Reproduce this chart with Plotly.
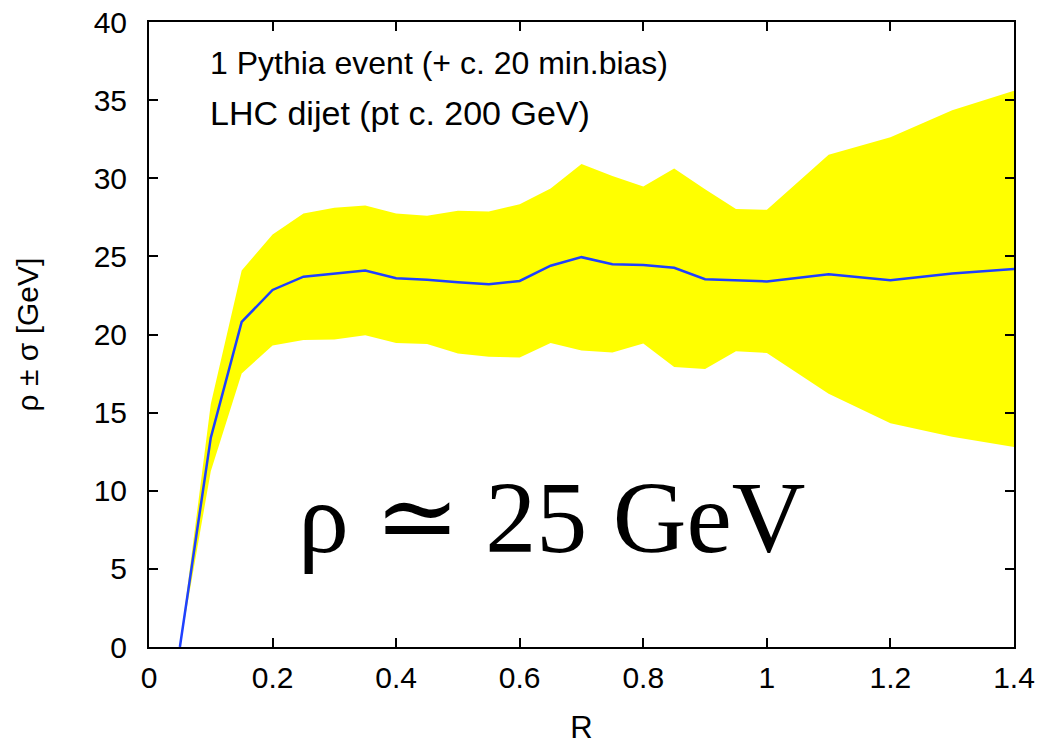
import plotly.graph_objects as go

# Data
R = [0.05, 0.1, 0.15, 0.2, 0.25, 0.3, 0.35, 0.4, 0.45, 0.5, 0.55, 0.6,
     0.65, 0.7, 0.75, 0.8, 0.85, 0.9, 0.95, 1.0, 1.1, 1.2, 1.3, 1.4]
rho = [0.0, 13.4, 20.8, 22.85, 23.7, 23.9, 24.1, 23.6, 23.5, 23.35, 23.22, 23.43,
       24.4, 24.95, 24.5, 24.45, 24.27, 23.54, 23.48, 23.4, 23.85, 23.47, 23.9, 24.2]
sigma = [0.0, 2.15, 3.3, 3.55, 4.05, 4.22, 4.15, 4.15, 4.1, 4.57, 4.65, 4.9,
         4.95, 5.97, 5.65, 5.02, 6.35, 5.75, 4.55, 4.58, 7.65, 9.15, 10.45, 11.4]

x_tickvals = [0, 0.2, 0.4, 0.6, 0.8, 1.0, 1.2, 1.4]
x_ticktext = ["0", "0.2", "0.4", "0.6", "0.8", "1", "1.2", "1.4"]
y_tickvals = [0, 5, 10, 15, 20, 25, 30, 35, 40]

lower = [r - s for r, s in zip(rho, sigma)]
upper = [r + s for r, s in zip(rho, sigma)]

SANS = "Liberation Sans, Arial, Helvetica, sans-serif"
SERIF = "Liberation Serif, DejaVu Serif, Times New Roman, serif"

fig = go.Figure()
fig.add_trace(go.Scatter(x=R, y=lower, mode="lines", line=dict(width=0, color="#ffff00"),
                         showlegend=False, hoverinfo="skip"))
fig.add_trace(go.Scatter(x=R, y=upper, mode="lines", line=dict(width=0, color="#ffff00"),
                         fill="tonexty", fillcolor="#ffff00", showlegend=False, hoverinfo="skip"))
fig.add_trace(go.Scatter(x=R, y=rho, mode="lines", line=dict(width=2.5, color="#1f40ff"),
                         showlegend=False))

axis_common = dict(
    showline=True, linecolor="black", linewidth=2, mirror="allticks",
    ticks="inside", ticklen=9, tickwidth=1.5, tickcolor="black",
    showgrid=False, zeroline=False, automargin=False, ticklabeloverflow="allow",
    tickfont=dict(family=SANS, size=30, color="black"),
)

fig.update_layout(
    width=1045, height=745,
    margin=dict(l=149, r=31, t=22, b=98),
    paper_bgcolor="white", plot_bgcolor="white",
    xaxis=dict(range=[0, 1.4], tickvals=x_tickvals, ticktext=x_ticktext,
               ticklabelstandoff=3,
               title=dict(text="R", font=dict(family=SANS, size=31, color="black"), standoff=28),
               **axis_common),
    yaxis=dict(range=[0, 40], tickvals=y_tickvals, ticklabelstandoff=14,
               title=dict(text="ρ ± σ [GeV]", font=dict(family=SANS, size=30, color="black"), standoff=46),
               **axis_common),
    annotations=[
        dict(x=0.096, y=37.4, xref="x", yref="y", xanchor="left", yanchor="middle",
             text="1 Pythia event (+ c. 20 min.bias)", showarrow=False,
             font=dict(family=SANS, size=32, color="black")),
        dict(x=0.096, y=34.2, xref="x", yref="y", xanchor="left", yanchor="middle",
             text="LHC dijet (pt c. 200 GeV)", showarrow=False,
             font=dict(family=SANS, size=34, color="black")),
        dict(x=0.238, y=8.3, xref="x", yref="y", xanchor="left", yanchor="middle",
             text="ρ ≃ 25 GeV", showarrow=False,
             font=dict(family=SERIF, size=102, color="black")),
    ],
)

fig.write_html("out.html", config={"displayModeBar": False},
               post_script="document.body.style.margin='0';")
